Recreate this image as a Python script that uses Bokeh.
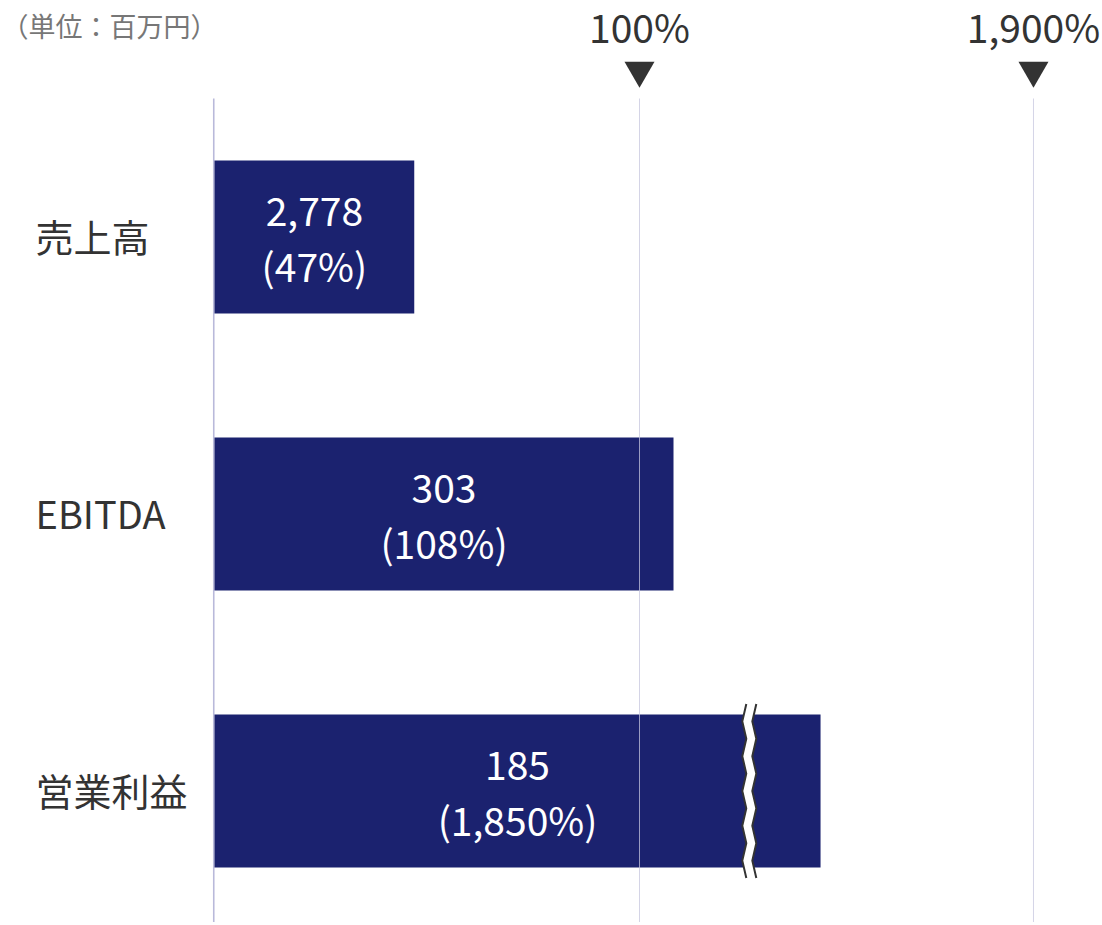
from bokeh.plotting import figure
from bokeh.models import Range1d, ColumnDataSource
from bokeh.embed import file_html
from bokeh.resources import INLINE
from bokeh.core.properties import value

# ---------------- data ----------------
categories = ["売上高", "EBITDA", "営業利益"]
amount_labels = ["2,778", "303", "185"]
percents = [47, 108, 1850]
percent_labels = ["(47%)", "(108%)", "(1,850%)"]
marker_values = [100, 1900]
marker_labels = ["100%", "1,900%"]
unit_label = "（単位：百万円）"

# ---------------- layout constants ----------------
W, H = 1100, 922
PX_X = 1 / 4.25          # percent units per pixel
PX_Y = 1 / 277.0         # category units per pixel
BREAK_LIMIT = 150        # values above this are drawn as broken bars
FAR_POS = 192.7          # display position of the far marker (broken axis)
BROKEN_END = 142.6       # display length of a broken bar
BREAK_AT = 125.6         # display position of the break symbol

def display_pos(v):
    if v <= BREAK_LIMIT:
        return v
    return None

bar_right = [display_pos(v) if display_pos(v) is not None else BROKEN_END for v in percents]
marker_pos = [display_pos(v) if display_pos(v) is not None else FAR_POS for v in marker_values]

FONT = value("Noto Sans CJK JP")
BAR = "#1b226f"
DARK = "#333333"

x0 = (0 - 214) * PX_X
y_top = (0 - 236.5) * PX_Y
p = figure(width=W, height=H, output_backend="svg", toolbar_location=None,
           x_range=Range1d(x0, x0 + W * PX_X),
           y_range=Range1d(y_top + H * PX_Y, y_top),
           min_border=0, outline_line_color=None)
p.axis.visible = False
p.grid.visible = False
p.background_fill_color = "white"

idx = list(range(len(categories)))
grid_top = -0.5
grid_bottom = y_top + H * PX_Y + 0.1

# baseline
p.segment(x0=[-0.75 * PX_X], x1=[-0.75 * PX_X], y0=[grid_top], y1=[grid_bottom],
          line_color="#b9b9da", line_width=1.6)

src = ColumnDataSource(dict(y=idx, right=bar_right, cat=categories,
                            amt=amount_labels, pct=percent_labels,
                            cx=[r / 2 for r in bar_right]))
p.hbar(y="y", left=0, right="right", height=153 * PX_Y, source=src,
       fill_color=BAR, line_color=None)

# grid lines at markers (drawn over bars)
p.segment(x0=marker_pos, x1=marker_pos, y0=[grid_top] * 2, y1=[grid_bottom] * 2,
          line_color="#c6c6de", line_width=1, line_alpha=0.75)

# break symbols on broken bars
for i, v in enumerate(percents):
    if display_pos(v) is not None:
        continue
    n = 10
    ytop = i - 87 * PX_Y
    ybot = i + 87 * PX_Y
    ys = [ytop + (ybot - ytop) * k / n for k in range(n + 1)]
    offs = [(2 if k in (0, n) else (-2 if k % 2 == 1 else 2)) for k in range(n + 1)]
    lx = [BREAK_AT + (-4 + o) * PX_X for o in offs]
    rx = [BREAK_AT + (6 + o) * PX_X for o in offs]
    p.patch(lx + rx[::-1], ys + ys[::-1], fill_color="white", line_color=None)
    p.line(lx, ys, line_color=DARK, line_width=2)
    p.line(rx, ys, line_color=DARK, line_width=2)

# value labels
p.text(x="cx", y="y", text="amt", source=src, text_font=FONT, text_font_size="39px",
       text_color="white", text_align="center", text_baseline="middle", y_offset=-26)
p.text(x="cx", y="y", text="pct", source=src, text_font=FONT, text_font_size="39px",
       text_color="white", text_align="center", text_baseline="middle", y_offset=28)

# category labels
p.text(x=[(35 - 214) * PX_X] * 3, y=idx, text=categories, text_font=FONT,
       text_font_size="38px", text_color=DARK, text_align="left",
       text_baseline="middle", y_offset=-2)

# markers header
p.text(x=marker_pos, y=[(28 - 236.5) * PX_Y] * 2, text=marker_labels, text_font=FONT,
       text_font_size="39px", text_color=DARK, text_align="center",
       text_baseline="middle", y_offset=-3)
p.scatter(x=marker_pos, y=[(70 - 236.5) * PX_Y] * 2, marker="inverted_triangle",
          size=30, fill_color=DARK, line_color=None)

# unit label
p.text(x=[(1 - 214) * PX_X], y=[(25 - 236.5) * PX_Y], text=[unit_label],
       text_font=FONT, text_font_size="27px", text_color="#777777",
       text_align="left", text_baseline="middle")

open("out.html", "w").write(file_html(p, INLINE))
